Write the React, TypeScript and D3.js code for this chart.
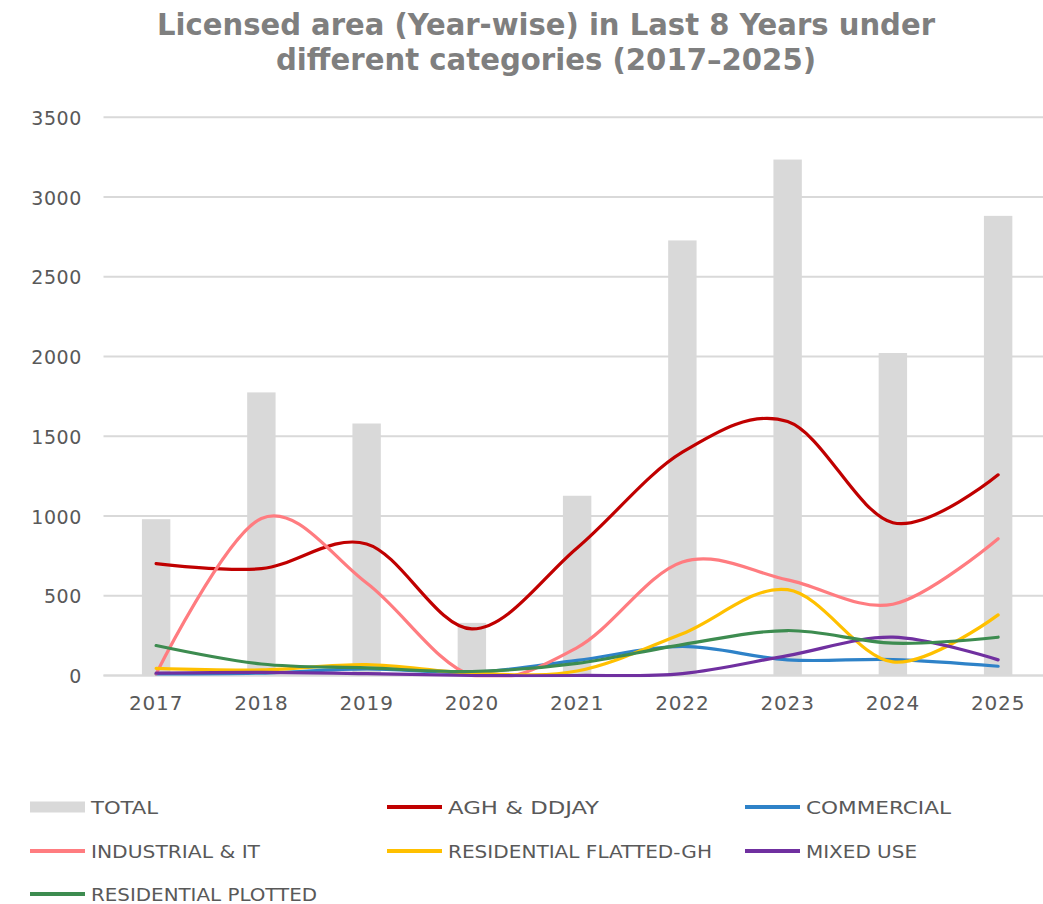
import React from "react";
import * as d3 from "d3";

const years = ["2017", "2018", "2019", "2020", "2021", "2022", "2023", "2024", "2025"];
const totalValues = [980, 1775, 1580, 330, 1127, 2728, 3235, 2022, 2882];
const aghValues = [702, 670, 825, 292, 800, 1400, 1592, 958, 1258];
const commercialValues = [10, 15, 42, 20, 95, 182, 98, 100, 58];
const industrialValues = [10, 985, 580, 0, 175, 712, 600, 447, 858];
const flattedValues = [45, 35, 68, 15, 28, 262, 538, 85, 380];
const mixedValues = [15, 20, 12, 0, 0, 12, 125, 240, 98];
const plottedValues = [188, 72, 48, 25, 76, 194, 282, 203, 240];
const yTicks = [0, 500, 1000, 1500, 2000, 2500, 3000, 3500];

const titleLines = ["Licensed area (Year-wise) in Last 8 Years under", "different categories (2017\u20132025)"];

const lineSeries = [
  { name: "AGH & DDJAY", values: aghValues, color: "#C00000" },
  { name: "COMMERCIAL", values: commercialValues, color: "#2E82C8" },
  { name: "INDUSTRIAL & IT", values: industrialValues, color: "#FF7C80" },
  { name: "RESIDENTIAL FLATTED-GH", values: flattedValues, color: "#FFC000" },
  { name: "MIXED USE", values: mixedValues, color: "#7030A0" },
  { name: "RESIDENTIAL PLOTTED", values: plottedValues, color: "#3D8C50" },
];

const W = 1043;
const H = 904;
const left = 103.5;
const right = 1050.75;
const top = 117.3;
const bottom = 675.5;

export default function App() {
  const x = d3.scaleBand<string>().domain(years).range([left, right]).paddingInner(0).paddingOuter(0);
  const y = d3.scaleLinear().domain([0, 3500]).range([bottom, top]);
  const bw = x.bandwidth();
  const barW = bw * 0.27;
  const cx = (yr: string) => (x(yr) as number) + bw / 2;
  const line = d3
    .line<number>()
    .x((_, i) => cx(years[i]))
    .y((v) => y(v))
    .curve(d3.curveCatmullRom.alpha(0));

  const legendItems = [
    { name: "TOTAL", color: "#D9D9D9", bar: true, tl: 67 },
    { name: lineSeries[0].name, color: lineSeries[0].color, tl: 151 },
    { name: lineSeries[1].name, color: lineSeries[1].color, tl: 145 },
    { name: lineSeries[2].name, color: lineSeries[2].color, tl: 169 },
    { name: lineSeries[3].name, color: lineSeries[3].color, tl: 264 },
    { name: lineSeries[4].name, color: lineSeries[4].color, tl: 111 },
    { name: lineSeries[5].name, color: lineSeries[5].color, tl: 226 },
  ];
  const colX = [30, 387, 745];
  const rowY = [807, 851, 894];

  return (
    <div style={{ position: "absolute", left: 0, top: 0 }}>
      <svg width={W} height={H} style={{ display: "block", background: "#fff" }}>
        <defs>
          <clipPath id="plotClip">
            <rect x={left} y={0} width={right - left} height={bottom + 1.8} />
          </clipPath>
        </defs>
        {titleLines.map((t, i) => (
          <text
            key={t}
            x={546}
            y={35 + i * 35}
            textAnchor="middle"
            fontFamily="'Liberation Sans Narrow', 'DejaVu Sans Condensed', 'Roboto', sans-serif"
            fontWeight="bold"
            fontSize={30}
            fill="#7F7F7F"
            textLength={i === 0 ? 778 : 540}
            lengthAdjust="spacingAndGlyphs"
          >
            {t}
          </text>
        ))}
        {yTicks.map((t) => (
          <g key={t}>
            <line x1={left} x2={W} y1={y(t)} y2={y(t)} stroke="#D9D9D9" strokeWidth={2} />
            <text
              x={82}
              y={y(t) + 7.5}
              textAnchor="end"
              fontFamily="'DejaVu Sans', sans-serif"
              fontSize={19}
              letterSpacing={0.6}
              fill="#595959"
            >
              {t}
            </text>
          </g>
        ))}
        {years.map((yr, i) => (
          <rect
            key={yr}
            x={cx(yr) - barW / 2}
            y={y(totalValues[i])}
            width={barW}
            height={bottom - y(totalValues[i])}
            fill="#D9D9D9"
          />
        ))}
        <line x1={left} x2={W} y1={bottom} y2={bottom} stroke="#D9D9D9" strokeWidth={2} />
        <g clipPath="url(#plotClip)">
          {lineSeries.map((s) => (
            <path
              key={s.name}
              d={line(s.values) || ""}
              fill="none"
              stroke={s.color}
              strokeWidth={3.2}
              strokeLinecap="round"
              strokeLinejoin="round"
            />
          ))}
        </g>
        {years.map((yr) => (
          <text
            key={yr}
            x={cx(yr)}
            y={710}
            textAnchor="middle"
            fontFamily="'DejaVu Sans', sans-serif"
            fontSize={20}
            letterSpacing={0.8}
            fill="#595959"
          >
            {yr}
          </text>
        ))}
        {legendItems.map((it, i) => {
          const lx = colX[i % 3];
          const ly = rowY[Math.floor(i / 3)];
          return (
            <g key={it.name}>
              {it.bar ? (
                <rect x={lx} y={ly - 5.5} width={55} height={11} fill={it.color} />
              ) : (
                <line x1={lx} x2={lx + 55} y1={ly} y2={ly} stroke={it.color} strokeWidth={4} />
              )}
              <text
                x={lx + 61}
                y={ly + 6.5}
                fontFamily="'Liberation Sans Narrow', 'DejaVu Sans Condensed', 'Roboto', sans-serif"
                fontSize={18.5}
                fill="#595959"
                textLength={it.tl}
                lengthAdjust="spacingAndGlyphs"
              >
                {it.name}
              </text>
            </g>
          );
        })}
      </svg>
    </div>
  );
}
